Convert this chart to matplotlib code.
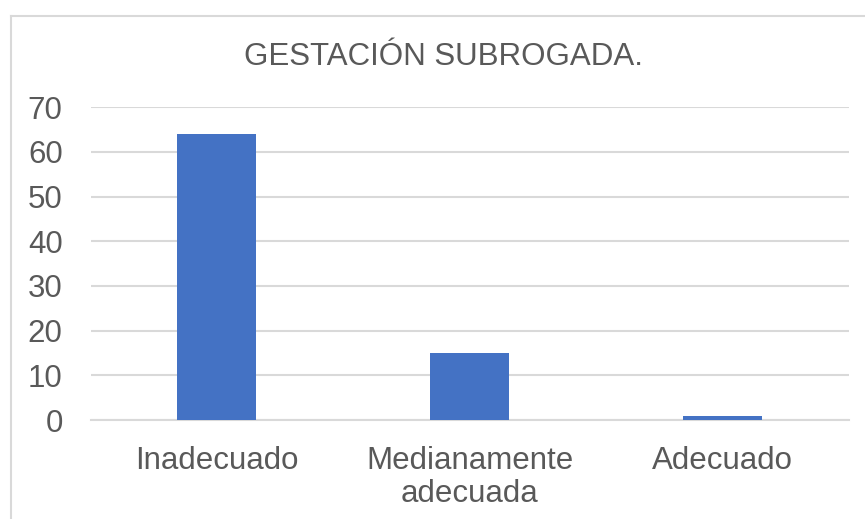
import matplotlib.pyplot as plt
from matplotlib.lines import Line2D

categorias = ['Inadecuado', 'Medianamente\nadecuada', 'Adecuado']
valores = [64, 15, 1]
ticks_y = [0, 10, 20, 30, 40, 50, 60, 70]

plt.rcParams['font.family'] = ['Liberation Sans', 'DejaVu Sans']
gris_texto = '#595959'
gris_linea = '#D9D9D9'

fig = plt.figure(figsize=(8.65, 5.19), dpi=100)
ax = fig.add_axes([90.5 / 865, 1 - 420 / 519, (849 - 90.5) / 865, (420 - 107.3) / 519])

x = range(len(categorias))
ax.bar(x, valores, width=0.3126, color='#4472C4', zorder=3)

ax.set_xlim(-0.5, 2.5)
ax.set_ylim(0, 70)
ax.set_yticks(ticks_y)
ax.set_xticks(list(x))
ax.set_xticklabels(categorias, linespacing=1.1)
ax.grid(axis='y', color=gris_linea, linewidth=1.5, zorder=0)
ax.tick_params(axis='y', length=0, pad=20, labelsize=22.5, labelcolor=gris_texto)
ax.tick_params(axis='x', length=0, pad=19, labelsize=22.5, labelcolor=gris_texto)
for s in ['top', 'right', 'left']:
    ax.spines[s].set_visible(False)
ax.spines['bottom'].set_color(gris_linea)
ax.spines['bottom'].set_linewidth(1.5)

fig.text(443.7 / 865, 1 - 65 / 519, 'GESTACIÓN SUBROGADA.', ha='center', va='baseline',
         fontsize=22.5, color=gris_texto)

# borde del área del gráfico
fig.add_artist(Line2D([10.5 / 865, 10.5 / 865], [0, 1 - 15.5 / 519], color=gris_linea, linewidth=1.5))
fig.add_artist(Line2D([10.5 / 865, 1], [1 - 15.5 / 519, 1 - 15.5 / 519], color=gris_linea, linewidth=1.5))

fig.savefig('out.png', dpi=100)
